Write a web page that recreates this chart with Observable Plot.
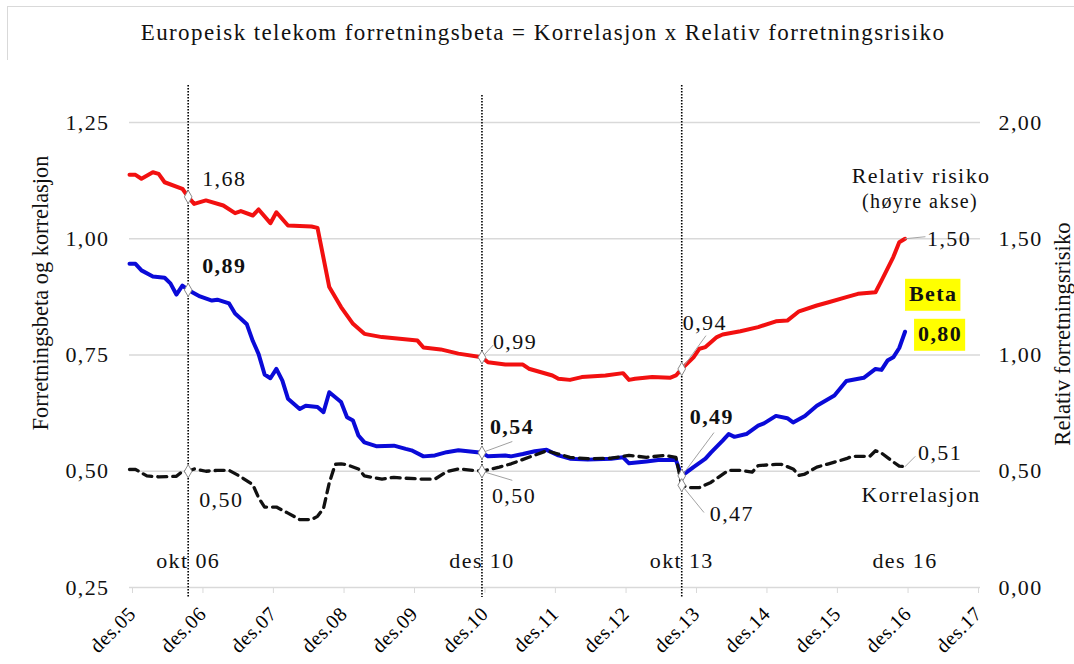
<!DOCTYPE html>
<html><head><meta charset="utf-8">
<script src="https://cdn.jsdelivr.net/npm/d3@7"></script>
<script src="https://cdn.jsdelivr.net/npm/@observablehq/plot@0.6"></script>
<style>
body{margin:0;background:#fff;}
#wrap{position:relative;width:1074px;height:664px;overflow:hidden;font-family:"Liberation Serif",serif;background:#fff;}
#frame{position:absolute;left:7px;top:6px;width:1200px;height:800px;border-left:1px solid #d9d9d9;border-top:1px solid #d9d9d9;}
#title{position:absolute;left:0;top:20px;width:1086px;text-align:center;font-size:23px;letter-spacing:1.4px;line-height:26px;color:#111;}
#chart{position:absolute;left:0;top:60px;}
</style></head>
<body>
<div id="wrap"><div id="frame"></div>
<div id="title">Europeisk telekom forretningsbeta = Korrelasjon x Relativ forretningsrisiko</div>
<div id="chart"></div></div>
<script>
// ---- data ----
const riskMonths = ["2005-12","2006-01","2006-02","2006-04","2006-05","2006-06","2006-09","2006-10","2006-11","2007-01","2007-04","2007-06","2007-07","2007-09","2007-10","2007-12","2008-01","2008-03","2008-07","2008-08","2008-10","2008-12","2009-02","2009-04","2009-07","2010-01","2010-02","2010-05","2010-08","2010-12","2011-01","2011-04","2011-07","2011-08","2011-12","2012-01","2012-03","2012-05","2012-09","2012-12","2013-01","2013-02","2013-05","2013-08","2013-09","2013-10","2013-12","2014-01","2014-02","2014-04","2014-05","2014-08","2014-11","2015-02","2015-04","2015-06","2015-09","2015-11","2016-02","2016-04","2016-07","2016-08","2016-10","2016-11","2016-12"];
const riskValues = [1.775,1.775,1.758,1.786,1.779,1.743,1.715,1.68,1.650,1.665,1.643,1.610,1.619,1.600,1.626,1.567,1.614,1.557,1.553,1.547,1.292,1.206,1.134,1.091,1.077,1.062,1.032,1.024,1.006,0.99,0.969,0.959,0.959,0.941,0.912,0.898,0.893,0.905,0.912,0.922,0.893,0.898,0.905,0.902,0.912,0.94,0.99,1.027,1.034,1.077,1.088,1.102,1.120,1.145,1.148,1.188,1.213,1.227,1.249,1.263,1.270,1.320,1.421,1.485,1.50];

const betaMonths = ["2005-12","2006-01","2006-02","2006-04","2006-06","2006-07","2006-08","2006-09","2006-10","2006-12","2007-02","2007-03","2007-05","2007-06","2007-07","2007-08","2007-09","2007-10","2007-11","2007-12","2008-01","2008-02","2008-03","2008-05","2008-06","2008-08","2008-09","2008-10","2008-12","2009-01","2009-02","2009-03","2009-04","2009-06","2009-09","2009-11","2009-12","2010-02","2010-04","2010-06","2010-08","2010-12","2011-01","2011-04","2011-05","2011-07","2011-09","2011-11","2012-01","2012-03","2012-06","2012-10","2012-12","2013-01","2013-04","2013-06","2013-09","2013-10","2013-12","2014-02","2014-03","2014-05","2014-06","2014-07","2014-09","2014-11","2014-12","2015-02","2015-04","2015-05","2015-07","2015-09","2015-12","2016-02","2016-05","2016-07","2016-08","2016-09","2016-10","2016-11","2016-12"];
const betaValues = [0.946,0.946,0.932,0.919,0.916,0.904,0.880,0.899,0.89,0.876,0.867,0.869,0.861,0.839,0.828,0.816,0.780,0.752,0.708,0.700,0.720,0.695,0.656,0.634,0.641,0.638,0.627,0.670,0.649,0.616,0.609,0.577,0.562,0.554,0.555,0.548,0.545,0.532,0.534,0.541,0.545,0.54,0.532,0.534,0.532,0.537,0.543,0.546,0.534,0.527,0.525,0.527,0.530,0.517,0.521,0.524,0.524,0.49,0.509,0.527,0.540,0.566,0.580,0.574,0.580,0.598,0.603,0.619,0.614,0.605,0.619,0.641,0.663,0.694,0.701,0.720,0.718,0.738,0.745,0.765,0.80];

const corrMonths = ["2005-12","2006-01","2006-03","2006-05","2006-08","2006-09","2006-10","2006-11","2007-01","2007-03","2007-05","2007-07","2007-09","2007-10","2007-11","2008-01","2008-03","2008-05","2008-07","2008-08","2008-09","2008-10","2008-11","2008-12","2009-01","2009-03","2009-04","2009-07","2009-09","2009-11","2010-02","2010-04","2010-06","2010-08","2010-12","2011-03","2011-05","2011-08","2011-11","2012-01","2012-03","2012-06","2012-10","2013-01","2013-04","2013-07","2013-09","2013-10","2013-11","2014-01","2014-03","2014-06","2014-08","2014-10","2014-11","2015-02","2015-03","2015-05","2015-06","2015-07","2015-09","2015-11","2016-02","2016-03","2016-06","2016-07","2016-08","2016-10","2016-11","2016-12"];
const corrValues = [0.504,0.504,0.490,0.488,0.489,0.500,0.50,0.505,0.500,0.502,0.502,0.488,0.471,0.443,0.423,0.423,0.410,0.396,0.396,0.403,0.42,0.475,0.515,0.516,0.514,0.505,0.490,0.483,0.487,0.485,0.483,0.483,0.499,0.505,0.50,0.509,0.516,0.530,0.544,0.537,0.530,0.527,0.528,0.534,0.530,0.534,0.530,0.47,0.465,0.465,0.476,0.502,0.502,0.498,0.512,0.515,0.515,0.505,0.491,0.494,0.509,0.516,0.527,0.532,0.532,0.544,0.539,0.520,0.511,0.51];

const annMonths = ["2006-10","2010-12","2013-10","2016-12"];
const annRisk = [1.68, 0.99, 0.94, 1.50];
const annBeta = [0.89, 0.54, 0.49, 0.80];
const annCorr = [0.50, 0.50, 0.47, 0.51];

const eventLabels = ["okt 06","des 10","okt 13","des 16"];
const eventMonths = ["2006-10","2010-12","2013-10","2016-12"];
const eventHasLine = [true, true, true, false];

const leftTicks = [0.25, 0.50, 0.75, 1.00, 1.25];
const rightTicks = [0.00, 0.50, 1.00, 1.50, 2.00];
const yearTickMonths = ["2005-12","2006-12","2007-12","2008-12","2009-12","2010-12","2011-12","2012-12","2013-12","2014-12","2015-12","2016-12","2017-12"];

const leftTitle = "Forretningsbeta og korrelasjon";
const rightTitle = "Relativ forretningsrisiko";

// ---- helpers ----
const parse = s => { const [y, m] = s.split("-").map(Number); return new Date(Date.UTC(y, m - 1, 1)); };
const toLeft = r => r / 2 + 0.25;
const toRight = l => (l - 0.25) * 2;
const fmt = v => v.toFixed(2).replace(".", ",");

const riskData = riskMonths.map((m, i) => ({date: parse(m), y: toLeft(riskValues[i])}));
const betaData = betaMonths.map((m, i) => ({date: parse(m), y: betaValues[i]}));
const corrData = corrMonths.map((m, i) => ({date: parse(m), y: corrValues[i]}));
const ann = annMonths.map((m, i) => ({
  date: parse(m), risk: toLeft(annRisk[i]), beta: annBeta[i], corr: annCorr[i],
  riskT: fmt(annRisk[i]), betaT: fmt(annBeta[i]), corrT: fmt(annCorr[i])
}));
const events = eventLabels.map((t, i) => ({t, date: parse(eventMonths[i]), line: eventHasLine[i]}));

const RED = "#f21010", BLUE = "#0a0ad8", LEAD = "#a0a0a0";

// offsets (px) of labels from points
const riskOff = [[14,-18],[11,-15],[1,-46],[22,0]];
const betaOff = [[14,-24],[8,-26],[8,-59],[13,2]];
const corrOff = [[11,29],[10,25],[28,29],[13,-14]];
// leader vectors (px) from points, null = none
const riskLead = [null,[11,-12],[24,-33],[20,-2]];
const betaLead = [null,[30,-11],[32,-43],null];
const corrLead = [null,[30,9],[22,27],[10,-10]];

const lineShape = {draw(ctx, l) { ctx.moveTo(0, 0); ctx.lineTo(0, -l); }};

const marks = [
  Plot.ruleY(leftTicks, {stroke: "#d9d9d9", strokeWidth: 1.3, insetRight: -5}),
  Plot.axisY({anchor: "left", ticks: leftTicks, tickFormat: fmt, tickSize: 0, tickPadding: 20, fontSize: 22, label: null}),
  Plot.axisY({anchor: "right", ticks: rightTicks.map(toLeft), tickFormat: d => fmt(toRight(d)), tickSize: 0, tickPadding: 23, fontSize: 22, label: null}),
  Plot.axisX({ticks: yearTickMonths.map(parse), tickFormat: d => "des." + String(d.getUTCFullYear()).slice(2), tickRotate: -45, tickSize: 6, tickPadding: 17, dx: 3, stroke: "#d9d9d9", fill: "black", fontSize: 20, label: null}),
  Plot.ruleX(events.filter(d => d.line && d.t !== "des 10"), {x: "date", stroke: "black", strokeWidth: 1.6, strokeDasharray: "1.5,1.5", insetTop: -37, insetBottom: -10}),
  Plot.ruleX(events.filter(d => d.t === "des 10"), {x: "date", stroke: "black", strokeWidth: 1.6, strokeDasharray: "1.5,1.5", insetTop: -27, insetBottom: -10}),
  Plot.text(events, {x: "date", text: "t", frameAnchor: "bottom", dy: -27, fontSize: 22, lineAnchor: "middle"}),
  Plot.line(riskData, {x: "date", y: "y", stroke: RED, strokeWidth: 4, strokeLinejoin: "round"}),
  Plot.line(betaData, {x: "date", y: "y", stroke: BLUE, strokeWidth: 4, strokeLinejoin: "round"}),
  Plot.line(corrData, {x: "date", y: "y", stroke: "#111", strokeWidth: 3.3, strokeDasharray: "9,6"}),
];

// leaders
[["risk", riskLead], ["beta", betaLead], ["corr", corrLead]].forEach(([k, leads]) => {
  leads.forEach((L, i) => {
    if (!L) return;
    marks.push(Plot.vector([ann[i]], {x: "date", y: k, length: Math.hypot(L[0], L[1]), rotate: Math.atan2(L[0], -L[1]) * 180 / Math.PI, anchor: "start", shape: lineShape, stroke: LEAD, strokeWidth: 0.9}));
  });
});

// markers at the three events
["risk", "beta", "corr"].forEach(k => {
  marks.push(Plot.dot(ann.slice(0, 3), {x: "date", y: k, symbol: "diamond", r: 4, fill: "white", stroke: "#8a8a8a", strokeWidth: 1}));
});

// value labels
ann.forEach((d, i) => {
  marks.push(Plot.text([d], {x: "date", y: "risk", text: "riskT", dx: riskOff[i][0], dy: riskOff[i][1], textAnchor: "start", lineAnchor: "middle", fontSize: 22}));
  marks.push(Plot.text([d], {x: "date", y: "beta", text: "betaT", dx: betaOff[i][0], dy: betaOff[i][1], textAnchor: "start", lineAnchor: "middle", fontSize: 22, fontWeight: "bold"}));
  marks.push(Plot.text([d], {x: "date", y: "corr", text: "corrT", dx: corrOff[i][0], dy: corrOff[i][1], textAnchor: "start", lineAnchor: "middle", fontSize: 22}));
});

const last = [ann[3]];
marks.push(Plot.text(last, {x: "date", y: "beta", text: () => "Beta", dx: 4, dy: -38, textAnchor: "start", lineAnchor: "middle", fontSize: 22, fontWeight: "bold"}));
marks.push(Plot.text(last, {x: "date", y: "risk", text: () => "Relativ risiko", dx: 16, dy: -63, textAnchor: "middle", lineAnchor: "middle", fontSize: 22}));
marks.push(Plot.text(last, {x: "date", y: "risk", text: () => "(høyre akse)", dx: 15, dy: -37, textAnchor: "middle", lineAnchor: "middle", fontSize: 20}));
marks.push(Plot.text(last, {x: "date", y: "corr", text: () => "Korrelasjon", dx: 16, dy: 28, textAnchor: "middle", lineAnchor: "middle", fontSize: 22}));

// axis titles
marks.push(Plot.text([leftTitle], {text: d => d, frameAnchor: "left", dx: -89, dy: -62, rotate: -90, textAnchor: "middle", fontSize: 22.4, lineAnchor: "middle"}));
marks.push(Plot.text([rightTitle], {text: d => d, frameAnchor: "right", dx: 87, dy: -21, rotate: -90, textAnchor: "middle", fontSize: 22.8, lineAnchor: "middle"}));

const chart = Plot.plot({
  width: 1074, height: 604,
  marginTop: 62, marginBottom: 77, marginLeft: 129, marginRight: 99,
  x: {type: "utc", domain: [parse("2005-12"), parse("2017-12")]},
  y: {domain: [0.25, 1.25]},
  style: {fontFamily: "Liberation Serif", fontSize: "22px", color: "#111", background: "white", overflow: "visible"},
  marks
});
document.getElementById("chart").appendChild(chart);

// emulate the reference's horizontally wide lettering
chart.querySelectorAll("text").forEach(t => {
  const s = t.textContent;
  if (s === leftTitle || s === rightTitle) t.style.letterSpacing = "0px";
  else if ((t.getAttribute("transform") || "").includes("rotate")) t.style.letterSpacing = "0.6px";
  else t.style.letterSpacing = "1.4px";
});

// yellow highlight boxes behind "Beta" and the final beta value
chart.querySelectorAll("text").forEach(t => {
  const s = t.textContent;
  if (s === "Beta" || s === fmt(annBeta[3])) {
    const b = t.getBBox();
    const r = document.createElementNS("http://www.w3.org/2000/svg", "rect");
    r.setAttribute("x", b.x - 4); r.setAttribute("y", b.y - 2);
    r.setAttribute("width", b.width + 7); r.setAttribute("height", b.height + 7);
    r.setAttribute("fill", "#ffff00");
    const tr = t.getAttribute("transform");
    if (tr) r.setAttribute("transform", tr);
    t.parentNode.insertBefore(r, t);
  }
});
</script>
</body></html>
